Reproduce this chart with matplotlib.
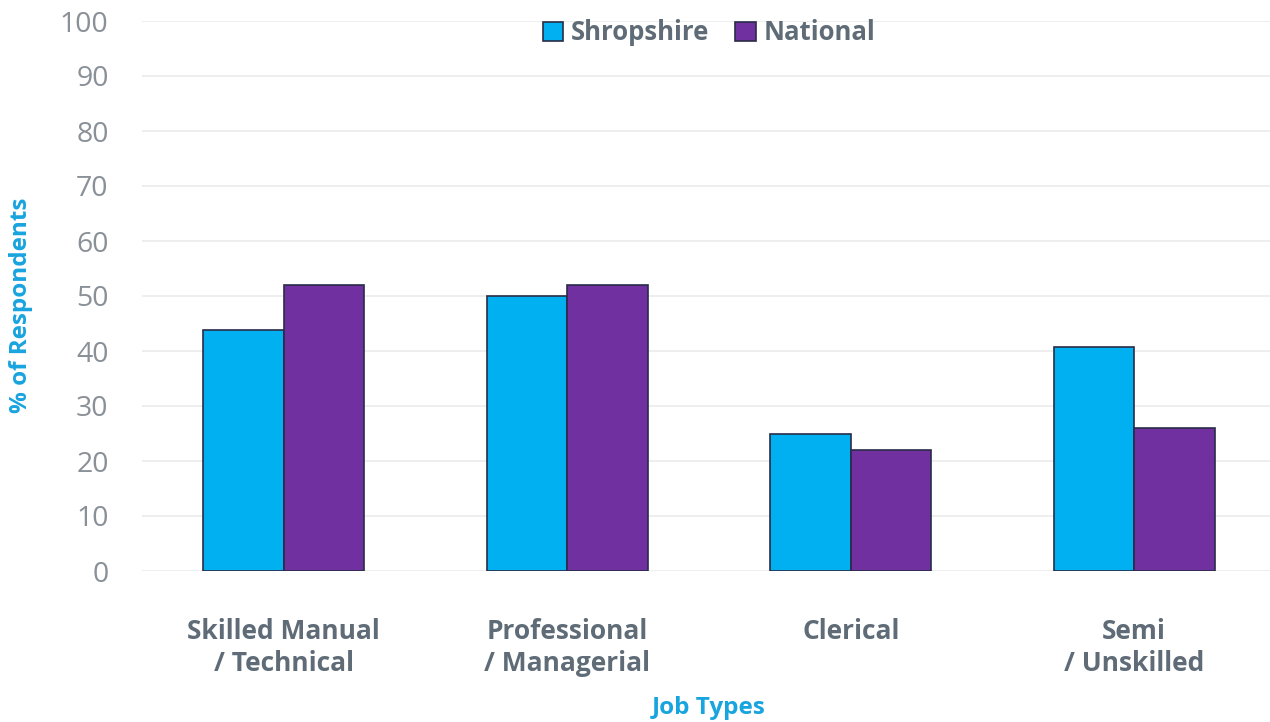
import matplotlib
matplotlib.use("Agg")
import matplotlib.pyplot as plt
import numpy as np

categories = ["Skilled Manual\n/ Technical", "Professional\n/ Managerial", "Clerical", "Semi\n/ Unskilled"]
series_names = ["Shropshire", "National"]
shropshire = [43.8, 50, 25, 40.8]
national = [52, 52, 22, 26]
yticks = [0, 10, 20, 30, 40, 50, 60, 70, 80, 90, 100]

plt.rcParams['font.family'] = ['Open Sans', 'DejaVu Sans']

fig = plt.figure(figsize=(12.7, 7.22), dpi=100)
L, R, T, B = 142, 1276, 21, 571
ax = fig.add_axes([L/1270, 1 - B/722, (R - L)/1270, (B - T)/722])

x = np.arange(len(categories))
w = 0.284
edge = "#2A2C48"
ax.bar(x - w/2, shropshire, w, color="#00B0F0", edgecolor=edge, linewidth=1.2, label=series_names[0], zorder=3)
ax.bar(x + w/2, national, w, color="#7030A0", edgecolor=edge, linewidth=1.2, label=series_names[1], zorder=3)

ax.set_xlim(-0.5, len(categories) - 0.5)
ax.set_ylim(0, 100)
ax.set_yticks(yticks)
ax.set_yticklabels([str(t) for t in yticks], fontsize=20.5, color="#8A9097")
ax.set_xticks(x)
ax.set_xticklabels(categories, fontsize=19, fontweight="bold", color="#5F6C77", linespacing=1.25)
ax.tick_params(axis="y", length=0, pad=24)
ax.tick_params(axis="x", length=0, pad=34)
for s in ax.spines.values():
    s.set_visible(False)
ax.grid(axis="y", color="#EBEBEB", linewidth=1.2, zorder=0)
ax.set_axisbelow(True)

ax.set_ylabel("% of Respondents", fontsize=17.5, fontweight="bold", color="#18A4DF", va="center")
ax.yaxis.set_label_coords((21 - L)/(R - L), (B - 305)/(B - T))
ax.set_xlabel("Job Types", fontsize=17.5, fontweight="bold", color="#18A4DF", va="center")
ax.xaxis.set_label_coords((709 - L)/(R - L), (B - 708)/(B - T))

leg = ax.legend(loc="center", bbox_to_anchor=((709 - L)/(R - L), (B - 33)/(B - T)), ncol=2, frameon=False,
                fontsize=18.5, handlelength=0.8, handleheight=0.8, handletextpad=0.3, columnspacing=1.0,
                borderpad=0)
for t in leg.get_texts():
    t.set_color("#5F6C77")
    t.set_fontweight("bold")

fig.savefig("out.png", dpi=100)
